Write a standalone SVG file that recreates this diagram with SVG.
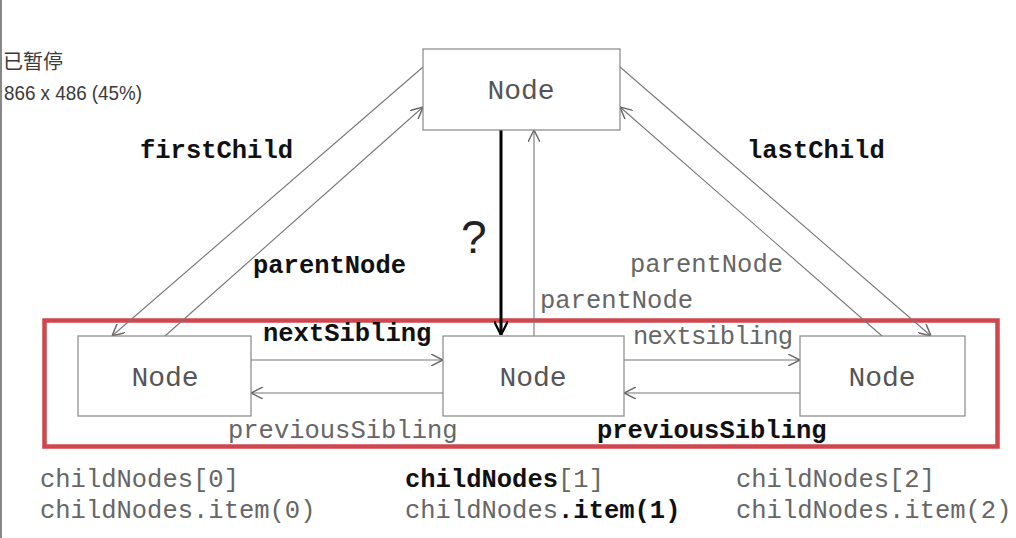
<svg xmlns="http://www.w3.org/2000/svg" width="1016" height="538" viewBox="0 0 1016 538">
  <defs>
    <marker id="open" markerWidth="12" markerHeight="12" refX="10" refY="5" orient="auto" markerUnits="userSpaceOnUse" viewBox="0 0 10 10">
      <path d="M0,0 L10,5 L0,10" fill="none" stroke="#666" stroke-width="1.2"/>
    </marker>
    <marker id="openBold" markerWidth="14" markerHeight="14" refX="10" refY="5" orient="auto" markerUnits="userSpaceOnUse" viewBox="0 0 10 10">
      <path d="M0,0 L10,5 L0,10" fill="none" stroke="#000" stroke-width="1.6"/>
    </marker>
    <style>
      .box { fill: #fff; stroke: #888; stroke-width: 1.2; }
      .node { font-family: "Liberation Mono", "Courier New", monospace; font-size: 28px; fill: #555; text-anchor: middle; }
      .lbl { font-family: "Liberation Mono", "Courier New", monospace; font-size: 25.5px; fill: #666; }
      .b { font-weight: bold; fill: #111; }
      .wire { stroke: #777; stroke-width: 1.1; fill: none; marker-end: url(#open); }
      .overlay { font-family: "Liberation Sans", "Noto Sans CJK SC", sans-serif; fill: #3a3a3a; stroke: #fff; stroke-width: 3; paint-order: stroke; }
    </style>
  </defs>

  <rect width="1016" height="538" fill="#fff"/>
  <line x1="1" y1="0" x2="1" y2="538" stroke="#888" stroke-width="2"/>

  <!-- player overlay -->
  <text class="overlay" x="3" y="69" font-size="20">已暂停</text>
  <text class="overlay" x="4" y="100" font-size="21" textLength="138" lengthAdjust="spacingAndGlyphs">866 x 486 (45%)</text>

  <!-- child group frame -->
  <rect x="44.5" y="320.5" width="953" height="126" fill="none" stroke="#cf464d" stroke-width="4.5"/>

  <g id="connectors">
    <line class="wire" x1="423" y1="67" x2="112" y2="336"/>
    <line class="wire" x1="165" y1="336" x2="423" y2="107"/>
    <line class="wire" x1="620" y1="67" x2="931" y2="336"/>
    <line class="wire" x1="882" y1="336" x2="620" y2="107"/>
    <line x1="501" y1="130" x2="501" y2="335" stroke="#000" stroke-width="3" marker-end="url(#openBold)"/>
    <line class="wire" x1="534" y1="336" x2="534" y2="130"/>
    <line class="wire" x1="251" y1="360" x2="443" y2="360"/>
    <line class="wire" x1="443" y1="393" x2="251" y2="393"/>
    <line class="wire" x1="624" y1="360" x2="800" y2="360"/>
    <line class="wire" x1="800" y1="393" x2="624" y2="393"/>
  </g>

  <g id="node-parent">
    <rect class="box" x="423" y="49" width="197" height="81"/>
    <text class="node" x="521" y="99">Node</text>
  </g>
  <g id="node-child0">
    <rect class="box" x="78" y="336" width="173" height="80"/>
    <text class="node" x="165" y="386">Node</text>
  </g>
  <g id="node-child1">
    <rect class="box" x="443" y="336" width="181" height="80"/>
    <text class="node" x="533" y="386">Node</text>
  </g>
  <g id="node-child2">
    <rect class="box" x="800" y="336" width="165" height="80"/>
    <text class="node" x="882" y="386">Node</text>
  </g>

  <g id="labels">
    <text class="lbl b" x="140" y="158">firstChild</text>
    <text class="lbl b" x="253" y="273">parentNode</text>
    <text class="lbl b" x="747" y="158">lastChild</text>
    <text class="lbl" x="630" y="272">parentNode</text>
    <text class="lbl" x="540" y="308">parentNode</text>
    <text x="461" y="253" font-family="Liberation Sans, sans-serif" font-size="46" fill="#222">?</text>
    <text class="lbl b" x="263" y="341">nextSibling</text>
    <text class="lbl" x="228" y="438">previousSibling</text>
    <text class="lbl" x="633" y="344" font-size="24" textLength="160">nextsibling</text>
    <text class="lbl b" x="597" y="438">previousSibling</text>
  </g>

  <g id="captions">
    <text class="lbl" x="40" y="487">childNodes[0]</text>
    <text class="lbl" x="40" y="518">childNodes.item(0)</text>
    <text class="lbl" x="405" y="487"><tspan class="b">childNodes</tspan>[1]</text>
    <text class="lbl" x="405" y="518">childNodes<tspan class="b">.item(1)</tspan></text>
    <text class="lbl" x="736" y="487">childNodes[2]</text>
    <text class="lbl" x="736" y="518">childNodes.item(2)</text>
  </g>
</svg>
